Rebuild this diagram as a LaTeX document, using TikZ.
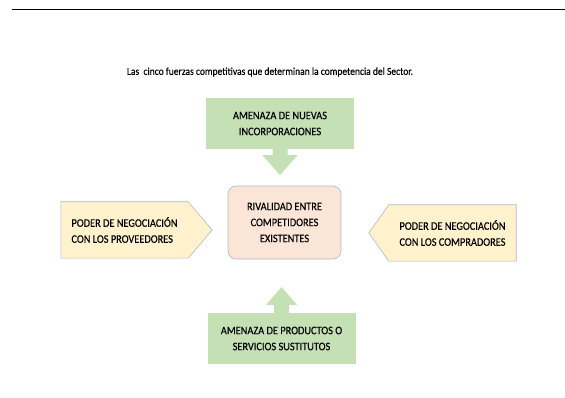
\documentclass[tikz,border=0pt]{standalone}
\usepackage{fontspec}
\setmainfont{Carlito}
\newfontfamily\narrowfont[FakeStretch=0.9, FakeBold=0.3]{Carlito}
\usepackage{tikz}
\usetikzlibrary{shapes, arrows, positioning, calc, backgrounds}
\definecolor{fgreen}{RGB}{197,224,180}
\definecolor{fyellow}{RGB}{255,242,204}
\definecolor{fpink}{RGB}{251,229,214}
\definecolor{fborder}{RGB}{173,185,202}
\newcommand{\boxfont}{\narrowfont\fontsize{11.5}{16}\selectfont}
\tikzstyle{gbox} = [fill=fgreen, minimum width=148pt, minimum height=51pt, inner sep=0, align=center, font=\boxfont]
\tikzstyle{pbox} = [minimum width=127pt, minimum height=56pt, inner sep=0, align=left, font=\boxfont]
\tikzstyle{cbox} = [fill=fpink, draw=fborder, line width=0.6pt, rounded corners=8pt, minimum width=113pt, minimum height=73pt, inner sep=0, align=center, font=\boxfont]
\tikzstyle{line} = [draw=fborder, line width=0.6pt]
\tikzstyle{garrow} = [fill=fgreen]

\begin{document}
\begin{tikzpicture}[x=1pt, y=-1pt]
	\useasboundingbox (0,0) rectangle (565,398);
	\draw [line width=1.2pt] (12,9.5) -- (565,9.5);

	\node [font=\narrowfont\fontsize{10.6}{12}\selectfont] (titulo) at (270,72) {Las\ \ cinco fuerzas competitivas que determinan la competencia del Sector.};

	\node [gbox] (nuevas) at (280,123.5) {AMENAZA DE NUEVAS\\INCORPORACIONES};
	\node [gbox] (sustitutos) at (281.5,338.5) {AMENAZA DE PRODUCTOS O\\SERVICIOS SUSTITUTOS};
	\node [cbox] (rivalidad) at (284.5,222.5) {RIVALIDAD ENTRE\\COMPETIDORES\\EXISTENTES};
	\node [pbox] (proveedores) at (124.5,230) {PODER DE NEGOCIACIÓN\\CON LOS PROVEEDORES};
	\node [pbox] (compradores) at (452.5,233) {PODER DE NEGOCIACIÓN\\CON LOS COMPRADORES};

	\begin{scope}[on background layer]
		\path [line, fill=fyellow] (proveedores.north west) -- (proveedores.north east) -- ([xshift=24pt]proveedores.east) -- (proveedores.south east) -- (proveedores.south west) -- cycle;
		\path [line, fill=fyellow] (compradores.north east) -- (compradores.north west) -- ([xshift=-20pt]compradores.west) -- (compradores.south west) -- (compradores.south east) -- cycle;
	\end{scope}

	\path [garrow] (nuevas.south) ++(-7.5,0) -- ++(0,6) -- ++(-10,0) -- ++(17.5,20) -- ++(17.5,-20) -- ++(-10,0) -- ++(0,-6) -- cycle;
	\path [garrow] (sustitutos.north) ++(-7.5,0) -- ++(0,-8) -- ++(-8,0) -- ++(15.5,-17.7) -- ++(15.5,17.7) -- ++(-8,0) -- ++(0,8) -- cycle;
\end{tikzpicture}
\end{document}
